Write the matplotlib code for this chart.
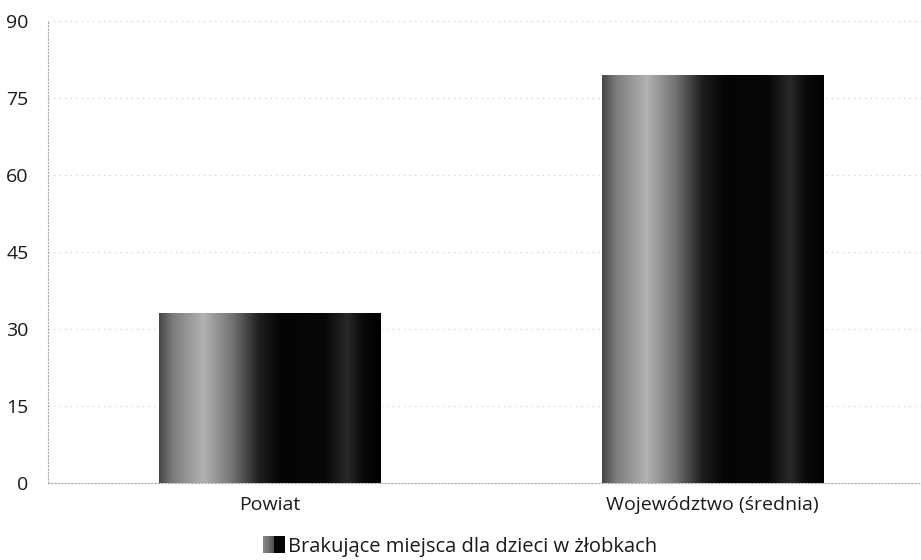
import numpy as np
import matplotlib
matplotlib.use("Agg")
import matplotlib.pyplot as plt
from matplotlib.patches import Rectangle
from matplotlib.legend_handler import HandlerBase
from matplotlib.colors import LinearSegmentedColormap

plt.rcParams['font.family'] = ['Open Sans', 'DejaVu Sans']

# data
categories = ["Powiat", "Województwo (średnia)"]
values = [33.1, 79.5]
series_name = "Brakujące miejsca dla dzieci w żłobkach"
yticks = [0, 15, 30, 45, 60, 75, 90]

# scanned-looking gradient across the bar (left -> right)
grad_stops = [(0.0, 0.28), (0.06, 0.48), (0.2, 0.70), (0.33, 0.45),
              (0.45, 0.12), (0.55, 0.02), (0.75, 0.03), (0.85, 0.16),
              (0.92, 0.04), (1.0, 0.0)]
cmap = LinearSegmentedColormap.from_list(
    "bar", [(p, (g, g, g)) for p, g in grad_stops])

fig = plt.figure(figsize=(9.21, 5.6), dpi=100)
ax = fig.add_axes([48 / 921, 1 - 483 / 560, (921 - 48) / 921, (483 - 21) / 560])

x = np.arange(len(categories))
bars = ax.bar(x, values, width=0.5, color="black", zorder=2)

grad = np.linspace(0, 1, 256).reshape(1, -1)
for b in bars:
    x0, y0 = b.get_x(), b.get_y()
    im = ax.imshow(grad, cmap=cmap, aspect="auto", zorder=3,
                   extent=[x0, x0 + b.get_width(), y0, y0 + b.get_height()])
    im.set_clip_path(b)

ax.set_xlim(-0.5, 1.47)
ax.set_ylim(0, 90)
ax.set_yticks(yticks)
ax.set_xticks(x)
ax.set_xticklabels(categories)
ax.tick_params(length=0, labelsize=14, colors="#1a1a1a")
ax.tick_params(axis="y", pad=14)
ax.tick_params(axis="x", pad=9)

ax.yaxis.grid(True, color="#c4c4c4", linestyle=(0, (1, 4)), linewidth=0.8)
ax.set_axisbelow(True)
for s in ["top", "right"]:
    ax.spines[s].set_visible(False)
for s in ["left", "bottom"]:
    ax.spines[s].set_color("#a8a8a8")
    ax.spines[s].set_linestyle((0, (1, 2)))
    ax.spines[s].set_linewidth(0.8)


class GradHandler(HandlerBase):
    # small square swatch: light dithered left part, black right part
    def create_artists(self, legend, orig, xd, yd, w, h, fontsize, trans):
        n = 10
        ht = h * 1.2
        out = []
        for i in range(n):
            t = (i + 0.5) / n
            g = 0.55 - 0.5 * t if t < 0.5 else 0.02
            out.append(Rectangle((xd + w * i / n, yd - 0.1 * h), w / n, ht,
                                 facecolor=(g, g, g), edgecolor="none",
                                 transform=trans))
        return out


leg = fig.legend([Rectangle((0, 0), 1, 1)], [series_name],
                 handler_map={Rectangle: GradHandler()},
                 loc="center", bbox_to_anchor=(460 / 921, 1 - 547 / 560),
                 frameon=False, fontsize=14.5, handlelength=1.05,
                 handletextpad=0.15)
for t in leg.get_texts():
    t.set_color("#1a1a1a")

fig.savefig("out.png", dpi=100)
